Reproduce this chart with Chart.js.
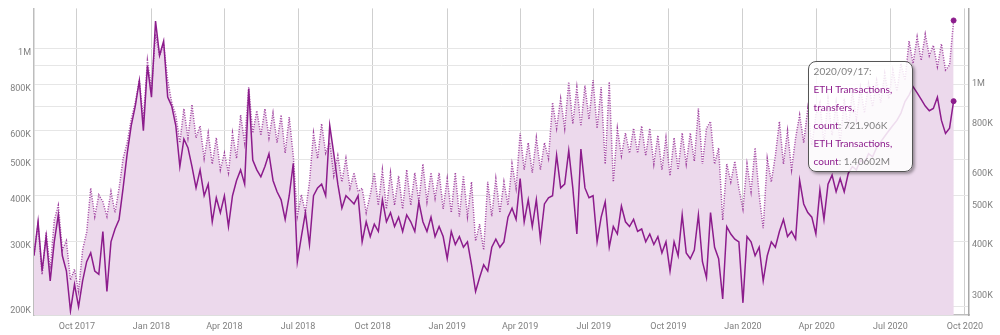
<!DOCTYPE html>
<html>
<head>
<meta charset="utf-8">
<title>ETH Transactions</title>
<script src="https://cdn.jsdelivr.net/npm/chart.js@4.4.0/dist/chart.umd.min.js"></script>
<style>
  body { margin: 0; background: #fff; }
  #wrap { position: relative; width: 1000px; height: 335px; }
  #tip {
    position: absolute;
    box-sizing: border-box;
    width: 105px;
    padding: 0 5px 1px 5px;
    background: rgba(255, 255, 255, 0.85);
    border: 1.5px solid #555;
    border-radius: 8px;
    box-shadow: 2px 2px 3px rgba(0, 0, 0, 0.35);
    font: 10px Lato, sans-serif;
    line-height: 18px;
    color: #808080;
    white-space: nowrap;
    pointer-events: none;
    opacity: 0;
  }
  #tip .lbl { color: #8c1c8c; }
</style>
</head>
<body>
<div id="wrap">
  <canvas id="ethChart"></canvas>
  <div id="tip"></div>
</div>
<script>
// Daily series sampled every 5 days, starting 2017/08/09 (values in thousands)
const startDate = "2017-08-09";
const stepDays = 5;

// ETH Transactions, transfers, count (left axis)
const transfersK = [
  275, 340, 250, 310, 235, 300, 355, 275, 250, 195,
  230, 200, 235, 265, 280, 250, 245, 320, 220, 300,
  325, 345, 420, 520, 620, 700, 820, 600, 900, 740,
  1190, 960, 1050, 740, 700, 620, 480, 570, 540, 480,
  420, 470, 400, 430, 340, 395, 360, 400, 330, 400,
  440, 470, 430, 780, 500, 470, 450, 480, 520, 440,
  410, 390, 345, 400, 490, 265, 310, 360, 295, 400,
  420, 430, 400, 620, 520, 430, 370, 400, 390, 380,
  400, 300, 340, 310, 335, 320, 390, 340, 360, 330,
  350, 320, 355, 340, 320, 385, 340, 320, 350, 310,
  330, 310, 270, 320, 295, 310, 290, 300, 260, 220,
  240, 260, 250, 290, 305, 290, 300, 350, 370, 345,
  445, 340, 390, 330, 390, 305, 380, 395, 400, 515,
  420, 430, 530, 420, 315, 535, 420, 395, 400, 300,
  350, 385, 290, 330, 315, 375, 340, 330, 345, 320,
  325, 300, 315, 295, 310, 280, 300, 250, 300, 275,
  355, 280, 270, 285, 355, 265, 240, 360, 290, 270,
  210, 330, 315, 305, 300, 205, 310, 300, 275, 290,
  235, 275, 300, 290, 320, 345, 310, 320, 305, 440,
  380, 360, 350, 315, 415, 345, 430, 455, 410, 445,
  410, 460, 480, 470, 500, 490, 520, 510, 540, 560,
  580, 600, 620, 640, 670, 720, 750, 790, 760, 730,
  700, 680, 690, 740, 640, 590, 610, 721.906
];

// ETH Transactions, count (right axis)
const transactionsK = [
  370, 440, 330, 420, 340, 450, 490, 380, 400, 320,
  340, 300, 380, 420, 540, 460, 520, 500, 460, 530,
  470, 540, 640, 700, 800, 880, 1000, 800, 1120, 950,
  1300, 1150, 1230, 1000, 880, 820, 700, 850, 720, 870,
  720, 770, 640, 740, 620, 720, 600, 660, 590, 740,
  640, 820, 700, 960, 740, 840, 730, 850, 720, 830,
  700, 820, 660, 810, 650, 460, 520, 470, 560, 740,
  640, 780, 660, 700, 580, 650, 560, 640, 540, 590,
  530, 540, 470, 520, 590, 490, 600, 480, 590, 490,
  580, 480, 600, 490, 590, 500, 620, 500, 590, 510,
  590, 480, 570, 470, 590, 460, 580, 460, 560, 400,
  440, 380, 560, 460, 570, 470, 560, 490, 620, 540,
  740, 600, 700, 590, 720, 600, 700, 640, 880, 760,
  900, 760, 990, 780, 960, 770, 970, 800, 1000, 760,
  960, 620, 990, 560, 760, 650, 740, 660, 760, 660,
  770, 650, 760, 620, 730, 600, 720, 580, 720, 600,
  740, 620, 740, 630, 850, 620, 760, 790, 620, 680,
  450, 620, 560, 630, 540, 480, 620, 530, 680, 520,
  430, 640, 560, 650, 790, 620, 750, 600, 720, 820,
  700, 850, 690, 820, 880, 700, 900, 730, 880, 700,
  900, 760, 940, 800, 960, 830, 980, 860, 1000, 880,
  1040, 900, 1060, 940, 1100, 1000, 1250, 1100, 1280, 1120,
  1300, 1150, 1220, 1080, 1230, 1060, 1090, 1406.02
];

// x axis ticks (quarter starts)
const tickDates = [
  "2017-10-01", "2018-01-01", "2018-04-01", "2018-07-01", "2018-10-01",
  "2019-01-01", "2019-04-01", "2019-07-01", "2019-10-01", "2020-01-01",
  "2020-04-01", "2020-07-01", "2020-10-01"
];
const tickLabels = [
  "Oct 2017", "Jan 2018", "Apr 2018", "Jul 2018", "Oct 2018",
  "Jan 2019", "Apr 2019", "Jul 2019", "Oct 2019", "Jan 2020",
  "Apr 2020", "Jul 2020", "Oct 2020"
];
const xEnd = "2020-10-06";

// y axis ticks
const leftTicks = [200, 300, 400, 500, 600, 700, 800, 900, 1000];
const leftLabelled = [200, 300, 400, 500, 600, 800, 1000];
const rightTicks = [300, 400, 500, 600, 800, 1000];

const seriesLabels = ["ETH Transactions, transfers, count", "ETH Transactions, count"];

const purple = "#8c1c8c";
const fillColor = "#ecd9ec";
const DAY = 86400000;
const t0 = Date.parse(startDate);

function dayOf(s) {
  return Math.round((Date.parse(s) - t0) / DAY);
}

function kLabel(v) {
  const k = Math.round(v / 1000);
  return k >= 1000 ? k / 1000 + "M" : k + "K";
}

function fmtValue(v) {
  if (v >= 1e6) return +(v / 1e6).toFixed(5) + "M";
  return +(v / 1e3).toFixed(3) + "K";
}

function toPoints(arr) {
  return arr.map((v, i) => ({ x: i * stepDays, y: v * 1000 }));
}

// HTML tooltip
function externalTooltip(context) {
  const { chart, tooltip } = context;
  const el = document.getElementById("tip");
  if (tooltip.opacity === 0) {
    el.style.opacity = 0;
    return;
  }
  let html = "<div>" + tooltip.title[0] + "</div>";
  tooltip.dataPoints.forEach((dp) => {
    const parts = dp.dataset.label.split(", ");
    parts.forEach((p, j) => {
      if (j < parts.length - 1) {
        html += '<div class="lbl">' + p + ",</div>";
      } else {
        html += '<div><span class="lbl">' + p + "</span>: " + fmtValue(dp.raw.y) + "</div>";
      }
    });
  });
  el.innerHTML = html;
  el.style.opacity = 1;
  el.style.left = chart.canvas.offsetLeft + tooltip.caretX - 146 + "px";
  el.style.top = chart.canvas.offsetTop + tooltip.caretY + "px";
}

const axisFont = { family: "Roboto", size: 9 };
const tickColor = "#808080";

const ctx = document.getElementById("ethChart").getContext("2d");
const chart = new Chart(ctx, {
  type: "line",
  data: {
    datasets: [
      {
        label: seriesLabels[0],
        data: toPoints(transfersK),
        yAxisID: "y",
        borderColor: purple,
        borderWidth: 1.5,
        backgroundColor: fillColor,
        fill: "start",
        tension: 0,
        pointRadius: 0,
        pointHoverRadius: 2.5,
        pointHoverBorderWidth: 1,
        pointHoverBackgroundColor: purple,
        pointHoverBorderColor: purple,
      },
      {
        label: seriesLabels[1],
        data: toPoints(transactionsK),
        yAxisID: "y1",
        borderColor: "rgba(140, 28, 140, 0.8)",
        borderWidth: 1.5,
        borderDash: [1, 1.5],
        backgroundColor: fillColor,
        fill: "start",
        tension: 0,
        pointRadius: 0,
        pointHoverRadius: 2.5,
        pointHoverBorderWidth: 1,
        pointHoverBackgroundColor: purple,
        pointHoverBorderColor: purple,
      },
    ],
  },
  options: {
    responsive: true,
    maintainAspectRatio: false,
    animation: false,
    layout: { padding: { top: 7, left: 0, right: 0, bottom: 0 } },
    interaction: { mode: "index", intersect: false },
    plugins: {
      legend: { display: false },
      filler: { drawTime: "beforeDatasetsDraw" },
      tooltip: {
        enabled: false,
        external: externalTooltip,
        callbacks: {
          title: (items) =>
            new Date(t0 + items[0].parsed.x * DAY).toISOString().slice(0, 10).replace(/-/g, "/") + ":",
        },
      },
    },
    scales: {
      x: {
        type: "linear",
        min: 0,
        max: dayOf(xEnd),
        afterBuildTicks: (scale) => {
          scale.ticks = tickDates.map((d) => ({ value: dayOf(d) }));
        },
        afterFit: (scale) => {
          scale.height = 20;
        },
        ticks: {
          autoSkip: false,
          maxRotation: 0,
          padding: 6,
          font: axisFont,
          color: tickColor,
          callback: (value) => tickLabels[tickDates.findIndex((d) => dayOf(d) === value)],
        },
        grid: { color: "#cfcfcf", drawTicks: false },
        border: { color: "#bdbdbd", width: 1.5 },
      },
      y: {
        type: "logarithmic",
        position: "left",
        min: 190000,
        max: 1288000,
        afterBuildTicks: (scale) => {
          scale.ticks = leftTicks.map((v) => ({ value: v * 1000 }));
        },
        afterFit: (scale) => {
          scale.width = 34;
        },
        ticks: {
          autoSkip: false,
          padding: 3,
          labelOffset: 4,
          font: axisFont,
          color: tickColor,
          callback: (value) => (leftLabelled.includes(Math.round(value / 1000)) ? kLabel(value) : ""),
        },
        grid: { color: "#e6e6e6", drawTicks: false },
        border: { color: "#bdbdbd", width: 1.5 },
      },
      y1: {
        type: "logarithmic",
        position: "right",
        min: 262000,
        max: 1506000,
        afterBuildTicks: (scale) => {
          scale.ticks = rightTicks.map((v) => ({ value: v * 1000 }));
        },
        afterFit: (scale) => {
          scale.width = 31;
        },
        ticks: {
          autoSkip: false,
          padding: 3,
          labelOffset: 4,
          font: axisFont,
          color: tickColor,
          callback: (value) => kLabel(value),
        },
        grid: { display: false, drawTicks: false },
        border: { color: "#a8a8a8", width: 1.5 },
      },
    },
  },
});

// Show the hover state on the last day, as in the original screenshot
const last = transfersK.length - 1;
const active = [
  { datasetIndex: 0, index: last },
  { datasetIndex: 1, index: last },
];
chart.setActiveElements(active);
chart.tooltip.setActiveElements(active, { x: 0, y: 0 });
chart.update();
</script>
</body>
</html>
